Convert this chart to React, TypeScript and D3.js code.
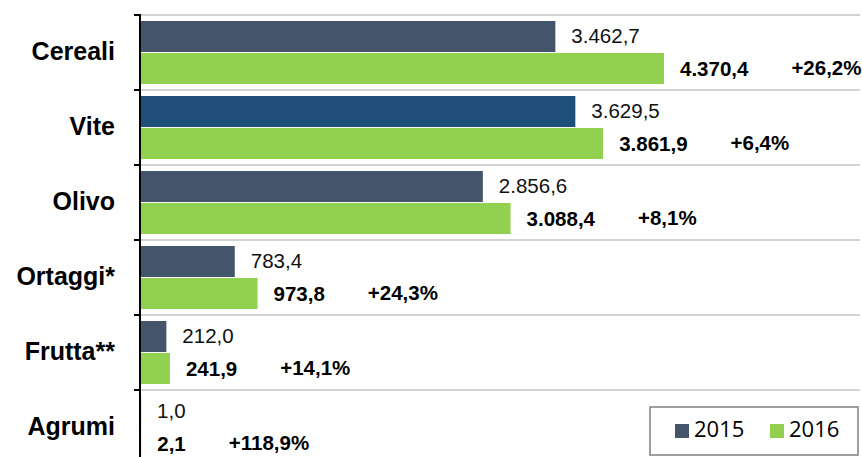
import React, { useEffect, useRef } from "react";
import * as d3 from "d3";

const categories = ["Cereali", "Vite", "Olivo", "Ortaggi*", "Frutta**", "Agrumi"];
const series = ["2015", "2016"];
const values2015 = [3462.7, 3629.5, 2856.6, 783.4, 212.0, 1.0];
const values2016 = [4370.4, 3861.9, 3088.4, 973.8, 241.9, 2.1];
const changeLabels = ["+26,2%", "+6,4%", "+8,1%", "+24,3%", "+14,1%", "+118,9%"];

const W = 862;
const H = 457;
const FONT = "'Liberation Sans', Arial, sans-serif";
const DARK = "#44546A";
const DARK_HL = "#1F4E79";
const GREEN = "#92D050";

export default function App() {
  const ref = useRef<SVGSVGElement>(null);

  useEffect(() => {
    const svg = d3.select(ref.current);
    svg.selectAll("*").remove();

    const locale = d3.formatLocale({ decimal: ",", thousands: ".", grouping: [3], currency: ["", "€"] });
    const fmt = locale.format(",.1f");

    const x = d3.scaleLinear().domain([0, 6000]).range([141, 859]);
    const y = d3.scaleBand<string>().domain(categories).range([15, 465]).paddingInner(0).paddingOuter(0);
    const sub = d3.scaleBand<string>().domain(series).range([6, 69]).paddingInner(0.03);

    // gridlines at category boundaries
    const bounds = categories.map((c) => y(c)!);
    svg
      .append("g")
      .selectAll("line")
      .data(bounds)
      .join("line")
      .attr("x1", 141)
      .attr("x2", 860)
      .attr("y1", (d) => d)
      .attr("y2", (d) => d)
      .attr("stroke", "#c4c4c4")
      .attr("stroke-width", 1.6);

    const g = svg
      .append("g")
      .selectAll("g")
      .data(categories)
      .join("g")
      .attr("transform", (c) => `translate(0,${y(c)})`);

    // bars
    g.append("rect")
      .attr("x", x(0))
      .attr("y", sub("2015")!)
      .attr("width", (_c, i) => x(values2015[i]) - x(0))
      .attr("height", sub.bandwidth())
      .attr("fill", (c) => (c === "Vite" ? DARK_HL : DARK));
    g.append("rect")
      .attr("x", x(0))
      .attr("y", sub("2016")!)
      .attr("width", (_c, i) => x(values2016[i]) - x(0))
      .attr("height", sub.bandwidth())
      .attr("fill", GREEN);

    // labels 2015
    g.append("text")
      .attr("x", (_c, i) => x(values2015[i]) + 16)
      .attr("y", sub("2015")! + sub.bandwidth() / 2 + 1)
      .attr("dominant-baseline", "middle")
      .attr("font-family", FONT)
      .attr("font-size", 20.5)
      .attr("fill", "#111")
      .text((_c, i) => fmt(values2015[i]));

    // labels 2016
    const l16 = g
      .append("text")
      .attr("x", (_c, i) => x(values2016[i]) + 16)
      .attr("y", sub("2016")! + sub.bandwidth() / 2 + 2)
      .attr("dominant-baseline", "middle")
      .attr("font-family", FONT)
      .attr("font-size", 20.5)
      .attr("font-weight", "bold")
      .attr("fill", "#000")
      .text((_c, i) => fmt(values2016[i]));

    const widths: number[] = [];
    l16.each(function () {
      widths.push((this as SVGTextElement).getComputedTextLength());
    });

    g.append("text")
      .attr("x", (_c, i) => x(values2016[i]) + 16 + widths[i] + 43)
      .attr("y", sub("2016")! + sub.bandwidth() / 2 + 1)
      .attr("dominant-baseline", "middle")
      .attr("font-family", FONT)
      .attr("font-size", 20.5)
      .attr("font-weight", "bold")
      .attr("fill", "#000")
      .text((_c, i) => changeLabels[i]);

    // category labels
    g.append("text")
      .attr("x", 115)
      .attr("y", y.bandwidth() / 2 + 1)
      .attr("text-anchor", "end")
      .attr("dominant-baseline", "middle")
      .attr("font-family", FONT)
      .attr("font-size", 25)
      .attr("font-weight", "bold")
      .attr("fill", "#000")
      .text((c) => c);

    // axis line and ticks
    svg
      .append("line")
      .attr("x1", 140)
      .attr("x2", 140)
      .attr("y1", 14)
      .attr("y2", H)
      .attr("stroke", "#000")
      .attr("stroke-width", 2);
    svg
      .append("g")
      .selectAll("line")
      .data(bounds)
      .join("line")
      .attr("x1", 134)
      .attr("x2", 140)
      .attr("y1", (d) => d)
      .attr("y2", (d) => d)
      .attr("stroke", "#000")
      .attr("stroke-width", 2);

    // legend
    const lg = svg.append("g");
    lg.append("rect")
      .attr("x", 650)
      .attr("y", 407)
      .attr("width", 208)
      .attr("height", 48)
      .attr("fill", "#fff")
      .attr("stroke", "#808080")
      .attr("stroke-width", 1.5);
    const items = [
      { s: series[0], c: DARK, x: 675 },
      { s: series[1], c: GREEN, x: 770 },
    ];
    items.forEach((it) => {
      lg.append("rect").attr("x", it.x).attr("y", 424).attr("width", 14).attr("height", 14).attr("fill", it.c);
      lg.append("text")
        .attr("x", it.x + 19)
        .attr("y", 431)
        .attr("dominant-baseline", "middle")
        .attr("font-family", "'Open Sans', sans-serif")
        .attr("font-size", 22)
        .attr("fill", "#000")
        .text(it.s);
    });
  }, []);

  return (
    <svg
      ref={ref}
      width={W}
      height={H}
      style={{ position: "absolute", left: 0, top: 0, background: "#fff" }}
    />
  );
}
